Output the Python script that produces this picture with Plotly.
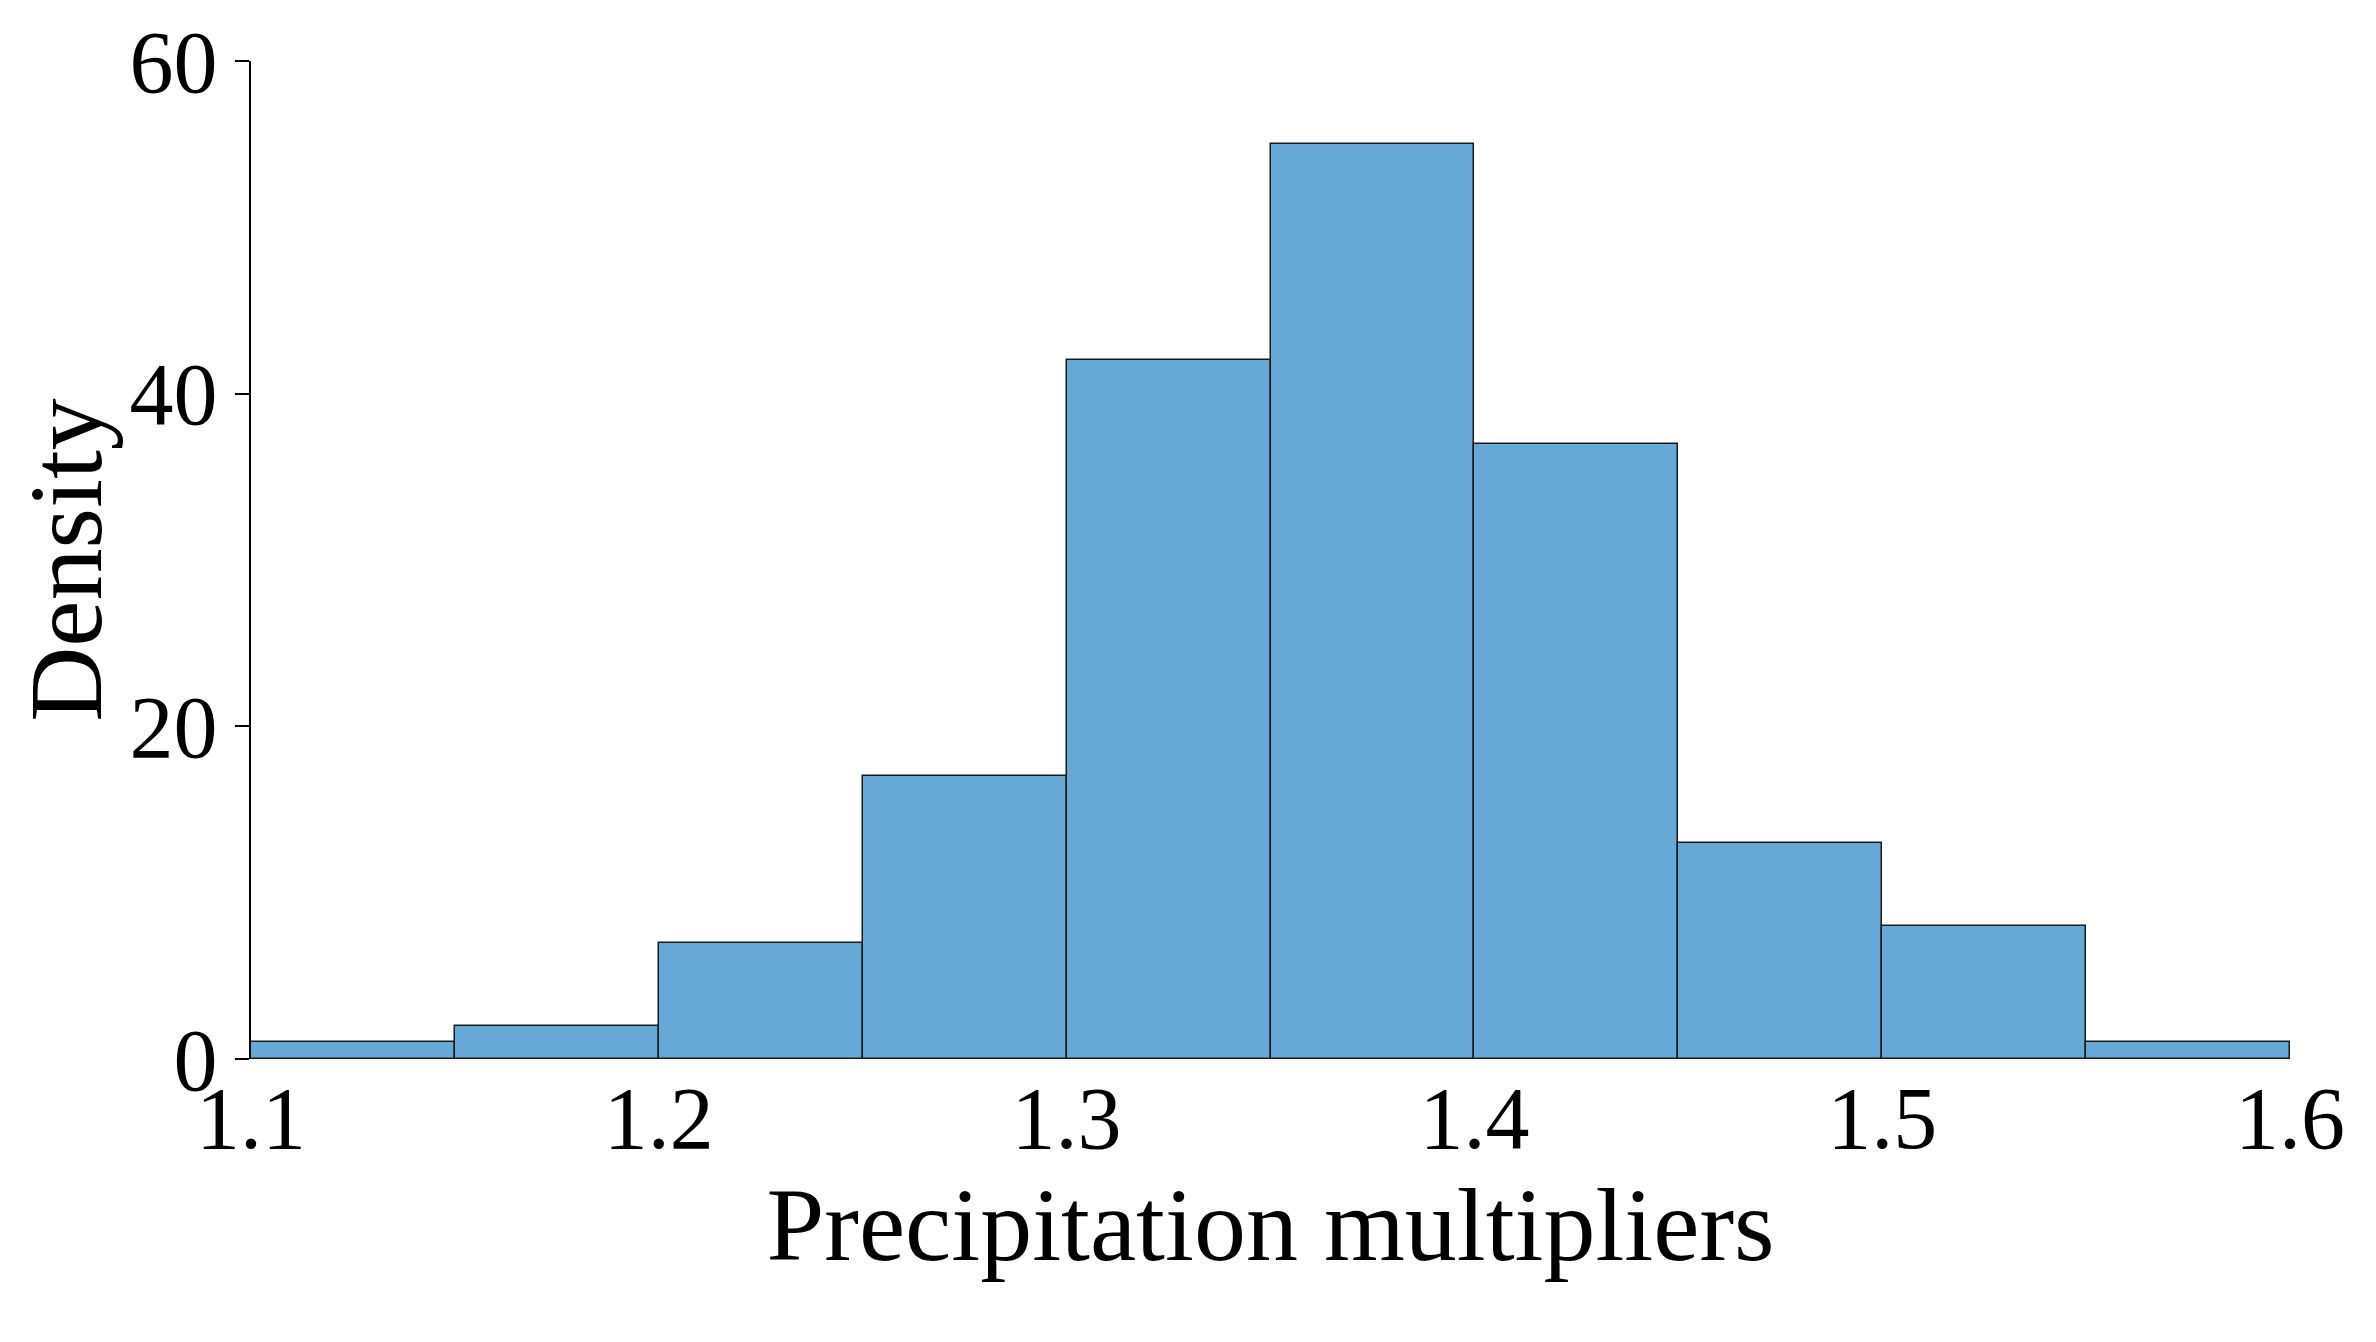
import plotly.graph_objects as go

bin_left = [1.10, 1.15, 1.20, 1.25, 1.30, 1.35, 1.40, 1.45, 1.50, 1.55]
density = [1, 2, 7, 17, 42, 55, 37, 13, 8, 1]
bin_width = 0.05

fig = go.Figure(go.Bar(
    x=[b + bin_width / 2 for b in bin_left],
    y=density,
    width=bin_width,
    marker=dict(color="#67a9d6", line=dict(color="#1a1a1a", width=1.5)),
))

font = dict(family="Liberation Serif, Times New Roman, serif", size=88, color="black")
fig.update_layout(
    width=2376, height=1342,
    margin=dict(l=243, r=94, t=53, b=291),
    paper_bgcolor="white", plot_bgcolor="white",
    font=font, showlegend=False, bargap=0,
)
fig.update_xaxes(
    range=[1.1, 1.6], tickvals=[1.1, 1.2, 1.3, 1.4, 1.5, 1.6],
    ticktext=["1.1", "1.2", "1.3", "1.4", "1.5", "1.6"],
    showgrid=False, zeroline=False, showline=False, ticks="", automargin=False,
    title=dict(text="Precipitation multipliers", font=dict(size=104), standoff=15),
)
fig.update_yaxes(
    range=[0, 60], tickvals=[0, 20, 40, 60],
    showgrid=False, zeroline=False, showline=True, linecolor="black", linewidth=2,
    ticks="outside", ticklen=14, tickwidth=2, tickcolor="black", automargin=False,
    title=dict(text="Density", font=dict(size=104), standoff=0),
)
fig.write_html("out.html")
